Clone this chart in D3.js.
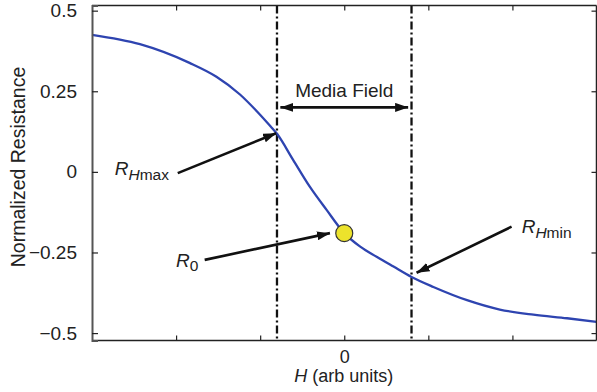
<!DOCTYPE html>
<html>
<head>
<meta charset="utf-8">
<script src="https://cdn.jsdelivr.net/npm/d3@7"></script>
<style>
  html, body { margin: 0; padding: 0; background: #fff; }
  svg { display: block; font-family: "Liberation Sans", Arial, Helvetica, sans-serif; }
</style>
</head>
<body>
<svg id="chart" width="597" height="392"></svg>
<script>
// Normalized resistance response vs applied field H (arbitrary units)
const fieldH = [-3.0, -2.43, -1.84, -1.52, -1.24, -1.04, -0.88, -0.8, -0.61, -0.41, -0.21, 0.0,
                0.19, 0.39, 0.58, 0.8, 1.06, 1.46, 1.85, 2.25, 2.65, 3.0];
const resistance = [0.425, 0.396, 0.338, 0.295, 0.240, 0.188, 0.142, 0.118, 0.038, -0.046, -0.118, -0.190,
                    -0.232, -0.264, -0.293, -0.326, -0.357, -0.398, -0.427, -0.443, -0.454, -0.465];

const yTickValues = [-0.5, -0.25, 0, 0.25, 0.5];
const yTickLabels = ["\u22120.5", "\u22120.25", "0", "0.25", "0.5"];
const xTickValues = [-2, -1, 0, 1, 2];
const xTickLabels = ["", "", "0", "", ""];

// Media field boundaries and the bias point R0
const mediaField = [-0.8, 0.8];
const biasPoint = { h: 0, r: -0.19 };

// Annotation arrows in data units: [tailH, tailR, tipH, tipR]
const arrowRHmax = [-1.98, -0.004, -0.81, 0.12];
const arrowR0 = [-1.66, -0.273, -0.17, -0.19];
const arrowRHmin = [1.99, -0.17, 0.86, -0.313];
const arrowMedia = [-0.76, 0.2, 0.76, 0.2];

const svg = d3.select("#chart");
const plotL = 92, plotR = 596.5, plotT = 5.5, plotB = 340.5;

const x = d3.scaleLinear().domain([-3, 3]).range([plotL, plotR]);
const y = d3.scaleLinear().domain([-0.523, 0.516]).range([plotB, plotT]);

// arrowhead markers
const defs = svg.append("defs");
defs.append("marker")
  .attr("id", "head")
  .attr("viewBox", "0 0 13 9")
  .attr("refX", 13).attr("refY", 4.5)
  .attr("markerWidth", 13).attr("markerHeight", 9)
  .attr("markerUnits", "userSpaceOnUse")
  .attr("orient", "auto-start-reverse")
  .append("path").attr("d", "M0,0 L13,4.5 L0,9 Z").attr("fill", "#111");

// dash-dot media field lines
svg.append("g").selectAll("line").data(mediaField).join("line")
  .attr("x1", d => x(d)).attr("x2", d => x(d))
  .attr("y1", plotT).attr("y2", plotB)
  .attr("stroke", "#111").attr("stroke-width", 2.3)
  .attr("stroke-dasharray", "8,3,2,3");

// response curve
const pts = fieldH.map((h, i) => [h, resistance[i]]);
svg.append("path")
  .datum(pts)
  .attr("fill", "none")
  .attr("stroke", "#2e44b0")
  .attr("stroke-width", 2.3)
  .attr("d", d3.line().x(d => x(d[0])).y(d => y(d[1])).curve(d3.curveMonotoneX));

// frame with inward ticks
const frame = svg.append("g");
frame.append("line").attr("x1", plotL).attr("x2", plotR).attr("y1", plotT).attr("y2", plotT)
  .attr("stroke", "#222").attr("stroke-width", 1.5);
frame.append("line").attr("x1", plotL).attr("x2", plotR).attr("y1", plotB).attr("y2", plotB)
  .attr("stroke", "#222").attr("stroke-width", 1.5);
frame.append("line").attr("x1", plotR).attr("x2", plotR).attr("y1", plotT).attr("y2", plotB)
  .attr("stroke", "#222").attr("stroke-width", 1.5);

const yAxisL = d3.axisLeft(y).tickValues(yTickValues).tickSize(-6).tickPadding(15)
  .tickFormat((d, i) => yTickLabels[i]);
const gy = svg.append("g").attr("transform", `translate(${plotL},0)`).call(yAxisL);
gy.select(".domain").attr("stroke", "#555").attr("stroke-width", 2);
gy.selectAll(".tick line").attr("stroke", "#222").attr("stroke-width", 1.2);
gy.selectAll(".tick text").attr("font-size", 19).attr("fill", "#222")
  .attr("font-family", "Liberation Sans, Arial, sans-serif");

const yAxisR = d3.axisRight(y).tickValues(yTickValues).tickSize(-5).tickFormat("");
const gyr = svg.append("g").attr("transform", `translate(${plotR},0)`).call(yAxisR);
gyr.select(".domain").remove();
gyr.selectAll(".tick line").attr("stroke", "#222").attr("stroke-width", 1.2);

const xAxisB = d3.axisBottom(x).tickValues(xTickValues).tickSize(-5).tickPadding(9.5)
  .tickFormat((d, i) => xTickLabels[i]);
const gx = svg.append("g").attr("transform", `translate(0,${plotB})`).call(xAxisB);
gx.select(".domain").remove();
gx.selectAll(".tick line").attr("stroke", "#222").attr("stroke-width", 1.2);
gx.selectAll(".tick text").attr("font-size", 18).attr("fill", "#222")
  .attr("font-family", "Liberation Sans, Arial, sans-serif");

const xAxisT = d3.axisTop(x).tickValues(xTickValues).tickSize(-5).tickFormat("");
const gxt = svg.append("g").attr("transform", `translate(0,${plotT})`).call(xAxisT);
gxt.select(".domain").remove();
gxt.selectAll(".tick line").attr("stroke", "#222").attr("stroke-width", 1.2);

// axis titles
svg.append("text")
  .attr("transform", `translate(25,${(plotT + plotB) / 2 - 6}) rotate(-90)`)
  .attr("text-anchor", "middle")
  .attr("font-size", 19.5).attr("fill", "#222")
  .text("Normalized Resistance");

const xt = svg.append("text")
  .attr("x", (plotL + plotR) / 2 - 0.5).attr("y", 382)
  .attr("text-anchor", "middle")
  .attr("font-size", 18).attr("fill", "#222");
xt.append("tspan").attr("font-style", "italic").text("H");
xt.append("tspan").text(" (arb units)");

// annotation arrows
function arrow(a, both) {
  const l = svg.append("line")
    .attr("x1", x(a[0])).attr("y1", y(a[1]))
    .attr("x2", x(a[2])).attr("y2", y(a[3]))
    .attr("stroke", "#111").attr("stroke-width", 2.6)
    .attr("marker-end", "url(#head)");
  if (both) l.attr("marker-start", "url(#head)");
}
arrow(arrowMedia, true);
arrow(arrowRHmax, false);
arrow(arrowR0, false);
arrow(arrowRHmin, false);

svg.append("text")
  .attr("x", x(0)).attr("y", y(0.233))
  .attr("text-anchor", "middle")
  .attr("font-size", 19).attr("fill", "#222")
  .text("Media Field");

// labels with subscripts
function rLabel(h, r, subItalic, subRest) {
  const t = svg.append("text")
    .attr("x", x(h)).attr("y", y(r))
    .attr("font-size", 19).attr("fill", "#222");
  t.append("tspan").attr("font-style", "italic").text("R");
  const s1 = t.append("tspan").attr("dy", 5).attr("font-size", 15.5);
  if (subItalic) s1.attr("font-style", "italic").text(subItalic);
  if (subRest) t.append("tspan").attr("font-size", 15.5).text(subRest);
}
rLabel(-2.73, -0.01, "H", "max");
rLabel(2.11, -0.189, "H", "min");
(function () {
  const t = svg.append("text")
    .attr("x", x(-2.0)).attr("y", y(-0.294))
    .attr("font-size", 19).attr("fill", "#222");
  t.append("tspan").attr("font-style", "italic").text("R");
  t.append("tspan").attr("dy", 4).attr("font-size", 15.5).text("0");
})();

// bias point
svg.append("circle")
  .attr("cx", x(biasPoint.h)).attr("cy", y(biasPoint.r))
  .attr("r", 8.5)
  .attr("fill", "#ece32c")
  .attr("stroke", "#333").attr("stroke-width", 1.2);
</script>
</body>
</html>
